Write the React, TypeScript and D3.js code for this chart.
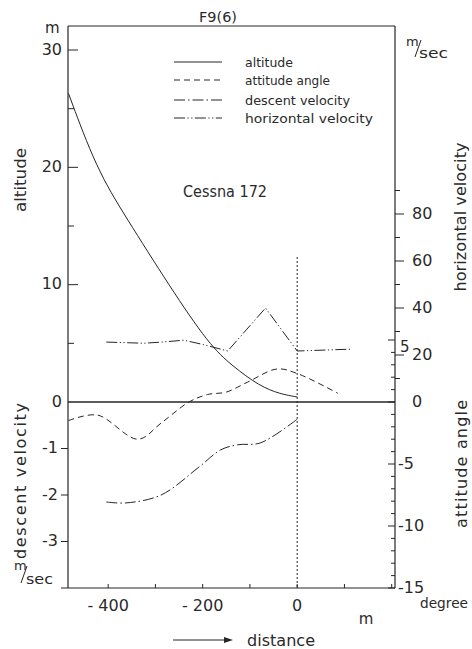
import React from "react";
import * as d3 from "d3";

// ---- data ----
const altX = [-484, -424, -364, -269, -186, -137, -80, -36, 0];
const altY = [26.3, 19.8, 15.85, 9.8, 4.86, 3.07, 1.36, 0.68, 0.43];

const angX = [-484, -423, -337, -288, -229, -190, -150, -105, -43, 0, 86];
const angY = [-1.5, -1.05, -3.0, -1.7, 0, 0.6, 0.8, 1.6, 2.66, 2.3, 0.7];

const dvX = [-404, -362, -288, -208, -162, -126, -78, 0];
const dvY = [-2.15, -2.17, -2.0, -1.4, -1.03, -0.92, -0.88, -0.37];

const hvX = [-404, -324, -280, -240, -200, -147, -67, 0, 116];
const hvY = [25.5, 25.0, 25.6, 26.3, 24.5, 21.7, 40, 21.7, 22.5];

const xTicks = [-400, -300, -200, -100, 0, 100, 200];
const xTickLabels = [-400, -200, 0];
const altTicks = [5, 10, 15, 20, 25, 30];
const altLabels = [0, 10, 20, 30];
const dvTicks = [-1, -2, -3];
const dvLabels = [-1, -2, -3];
const hvTicks = [10, 20, 30, 40, 50, 60, 70, 80, 90];
const hvLabels = [20, 40, 60, 80];
const angTicks = d3.range(-15, 6, 1);
const angLabels = [5, -5, -10, -15];

const legendItems = ["altitude", "attitude angle", "descent velocity", "horizontal velocity"];
const legendWidths = [48, 85, 105, 128];

const INK = "#262626";
const FONT = "DejaVu Sans";

export default function App() {
  const L = 68, R = 395, T = 26, B = 588;
  const x = d3.scaleLinear().domain([-485, 207]).range([L, R]);
  const yAlt = d3.scaleLinear().domain([0, 30]).range([402, 50]);
  const yDv = d3.scaleLinear().domain([-4, 0]).range([B, 402]);
  const yHv = d3.scaleLinear().domain([0, 80]).range([402, 214]);
  const yAng = d3.scaleLinear().domain([-15, 0]).range([B, 402]);

  const pts = (xs: number[], ys: number[]) => xs.map((v, i) => [v, ys[i]] as [number, number]);

  const altPath = d3.line<[number, number]>().x(d => x(d[0])).y(d => yAlt(d[1])).curve(d3.curveBasis)(pts(altX, altY))!;
  const angPath = d3.line<[number, number]>().x(d => x(d[0])).y(d => yAng(d[1])).curve(d3.curveCatmullRom)(pts(angX, angY))!;
  const dvPath = d3.line<[number, number]>().x(d => x(d[0])).y(d => yDv(d[1])).curve(d3.curveCatmullRom)(pts(dvX, dvY))!;
  const hvPath = d3.line<[number, number]>().x(d => x(d[0])).y(d => yHv(d[1])).curve(d3.curveLinear)(pts(hvX, hvY))!;

  const dashes = ["none", "6 4", "11 3 1.5 3", "11 2.5 1.2 2.5 1.2 2.5"];
  const legendY = [62, 80, 100, 118];

  const tick = { fill: "#2a2a2a", fontFamily: FONT, fontSize: 16 } as const;

  return (
    <svg width={472} height={649} style={{ position: "absolute", left: 0, top: 0, background: "#fff" }}>
      <rect x={0} y={0} width={472} height={649} fill="#fff" />
      {/* frame */}
      <g stroke={INK} strokeWidth={1.2} fill="none">
        <line x1={L} y1={T} x2={R} y2={T} />
        <line x1={L} y1={T} x2={L} y2={B} />
        <line x1={R} y1={T} x2={R} y2={B} />
        <line x1={L - 7} y1={B} x2={R} y2={B} />
        <line x1={L} y1={yAlt(0)} x2={R} y2={yAlt(0)} strokeWidth={1.4} />
      </g>
      {/* x ticks */}
      <g stroke={INK} strokeWidth={1}>
        {xTicks.map(t => <line key={t} x1={x(t)} x2={x(t)} y1={B} y2={B - 4} />)}
      </g>
      {xTickLabels.map(t => (
        <text key={t} x={x(t)} y={606} textAnchor="middle" dominantBaseline="middle" {...tick}>
          {t === 0 ? "0" : "- " + Math.abs(t)}
        </text>
      ))}
      {/* axis ticks */}
      <g stroke={INK} strokeWidth={1}>
        {altTicks.map(t => <line key={t} x1={L} x2={L + (t % 10 === 0 ? 10 : 6)} y1={yAlt(t)} y2={yAlt(t)} />)}
        {dvTicks.map(t => <line key={t} x1={L - 7} x2={L} y1={yDv(t)} y2={yDv(t)} />)}
        {hvTicks.map(t => <line key={t} x1={R} x2={R + (t % 20 === 0 ? 9 : 5)} y1={yHv(t)} y2={yHv(t)} />)}
        {angTicks.map(t => <line key={t} x1={R - (t % 5 === 0 ? 7 : 4)} x2={R} y1={yAng(t)} y2={yAng(t)} />)}
      </g>
      {altLabels.map(t => (
        <text key={t} x={62} y={yAlt(t)} textAnchor="end" dominantBaseline="middle" {...tick}>{t}</text>
      ))}
      {dvLabels.map(t => (
        <text key={t} x={58} y={yDv(t)} textAnchor="end" dominantBaseline="middle" {...tick}>{t}</text>
      ))}
      {hvLabels.map(t => (
        <text key={t} x={412} y={yHv(t)} textAnchor="start" dominantBaseline="middle" {...tick}>{t}</text>
      ))}
      <text x={412} y={yHv(0)} dominantBaseline="middle" {...tick}>0</text>
      {angLabels.map(t => (
        <text key={t} x={t === 5 ? 400 : 398} y={yAng(t) + (t === 5 ? 7 : 0)} dominantBaseline="middle" {...tick} fontSize={t === 5 ? 15 : 16}>
          {t}
        </text>
      ))}
      {/* unit labels */}
      <text x={45} y={33} {...tick} fontSize={15}>m</text>
      <g fill="#2a2a2a" fontFamily={FONT}>
        <text x={406} y={46} fontSize={13}>m</text>
        <text x={419} y={58} fontSize={14} textLength={29} lengthAdjust="spacingAndGlyphs">sec</text>
        <text x={14} y={570} fontSize={13}>m</text>
        <text x={26} y={584} fontSize={14} textLength={27} lengthAdjust="spacingAndGlyphs">sec</text>
        <text x={420} y={608} fontSize={14} textLength={48} lengthAdjust="spacingAndGlyphs">degree</text>
        <text x={366} y={624} fontSize={15} textAnchor="middle">m</text>
        <text x={218} y={22} fontSize={14} textAnchor="middle" textLength={38} lengthAdjust="spacingAndGlyphs">F9(6)</text>
        <text x={247} y={646} fontSize={16} textLength={68} lengthAdjust="spacingAndGlyphs">distance</text>
        <text x={183} y={197} fontSize={15} textLength={84} lengthAdjust="spacingAndGlyphs">Cessna 172</text>
      </g>
      {/* slashes of m/sec */}
      <g stroke={INK} strokeWidth={1}>
        <line x1={415} y1={57} x2={421} y2={40} />
        <line x1={21} y1={583} x2={27} y2={566} />
      </g>
      {/* distance arrow */}
      <g stroke={INK} strokeWidth={1} fill={INK}>
        <line x1={173} y1={640} x2={230} y2={640} />
        <path d="M224,637 L233,640 L224,643 Z" stroke="none" />
      </g>
      {/* rotated axis titles */}
      <g fill="#2a2a2a" fontFamily={FONT} fontSize={16}>
        <text transform="translate(26,180) rotate(-90)" textAnchor="middle" textLength={64} lengthAdjust="spacingAndGlyphs">altitude</text>
        <text transform="translate(26,481) rotate(-90)" textAnchor="middle" textLength={156} lengthAdjust="spacing">descent  velocity</text>
        <text transform="translate(466,217) rotate(-90)" textAnchor="middle" textLength={149} lengthAdjust="spacing">horizontal  velocity</text>
        <text transform="translate(467,464) rotate(-90)" textAnchor="middle" textLength={128} lengthAdjust="spacing">attitude  angle</text>
      </g>
      {/* legend */}
      {legendItems.map((name, i) => (
        <g key={name}>
          <line x1={174} x2={222} y1={legendY[i]} y2={legendY[i]} stroke={INK} strokeWidth={1} strokeDasharray={dashes[i]} />
          <text x={245} y={legendY[i] + 1} dominantBaseline="middle" fill="#2a2a2a" fontFamily={FONT} fontSize={12.5}
            textLength={legendWidths[i]} lengthAdjust="spacingAndGlyphs">{name}</text>
        </g>
      ))}
      {/* dotted reference line at 0 m */}
      <line x1={x(0)} x2={x(0)} y1={257} y2={B} stroke={INK} strokeWidth={1} strokeDasharray="2 2" />
      {/* series */}
      <g fill="none" stroke={INK} strokeWidth={1}>
        <path d={altPath} strokeDasharray={dashes[0]} />
        <path d={angPath} strokeDasharray={dashes[1]} />
        <path d={dvPath} strokeDasharray={dashes[2]} />
        <path d={hvPath} strokeDasharray={dashes[3]} />
      </g>
    </svg>
  );
}
